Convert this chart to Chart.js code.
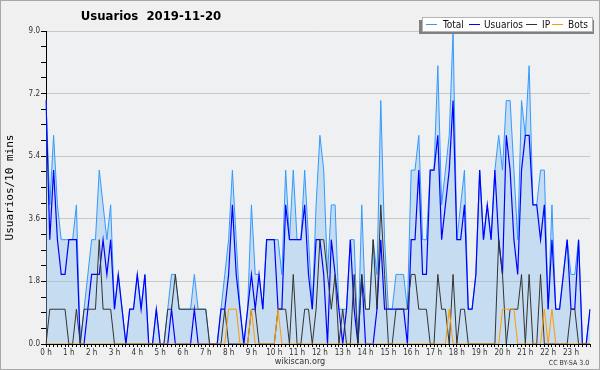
<!DOCTYPE html>
<html>
<head>
<meta charset="utf-8">
<script src="https://cdn.jsdelivr.net/npm/chart.js@4.4.1/dist/chart.umd.min.js"></script>
<style>
  body { margin: 0; background: #f0f0f0; }
</style>
</head>
<body>
<canvas id="GraficoUsuarios" width="600" height="370"></canvas>
<script>
// etiquetas del eje X (una por hora, 6 intervalos de 10 min por hora)
let horas = ['0 h', '1 h', '2 h', '3 h', '4 h', '5 h', '6 h', '7 h', '8 h', '9 h', '10 h', '11 h',
             '12 h', '13 h', '14 h', '15 h', '16 h', '17 h', '18 h', '19 h', '20 h', '21 h', '22 h', '23 h'];
let ticksY = [0, 1.8, 3.6, 5.4, 7.2, 9.0];

// valores cada 10 minutos
let total = [
    7, 4, 6, 4, 3, 3, 3, 3, 4, 0,   1, 2, 3, 3, 5, 4, 3, 4, 1, 2,
    1, 0, 1, 1, 2, 1, 2, 0, 0, 1,   0, 0, 1, 2, 2, 1, 1, 1, 1, 2,
    1, 1, 1, 0, 0, 0, 1, 2, 3, 5,   3, 1, 0, 1, 4, 2, 2, 1, 3, 3,
    3, 3, 2, 5, 3, 5, 3, 3, 5, 3,   1, 4, 6, 5, 2, 4, 4, 1, 1, 1,
    3, 3, 0, 4, 1, 1, 3, 2, 7, 3,   1, 1, 2, 2, 2, 1, 5, 5, 6, 3,
    3, 5, 5, 8, 4, 5, 6, 9, 3, 4,   5, 1, 1, 2, 5, 3, 4, 3, 5, 6,
    5, 7, 7, 5, 3, 7, 6, 8, 4, 4,   5, 5, 1, 4, 1, 1, 2, 3, 2, 2,
    3, 0, 0, 1
];
let usuarios = [
    7, 3, 5, 3, 2, 2, 3, 3, 3, 0,   0, 1, 2, 2, 2, 3, 2, 3, 1, 2,
    1, 0, 1, 1, 2, 1, 2, 0, 0, 1,   0, 0, 0, 1, 0, 0, 0, 0, 0, 1,
    0, 0, 0, 0, 0, 0, 1, 1, 2, 4,   2, 1, 0, 1, 2, 1, 2, 1, 3, 3,
    3, 1, 1, 4, 3, 3, 3, 3, 4, 2,   1, 3, 3, 2, 0, 3, 2, 1, 0, 1,
    3, 1, 0, 2, 0, 0, 0, 1, 3, 1,   1, 1, 1, 1, 1, 0, 3, 3, 5, 2,
    2, 5, 5, 6, 3, 4, 5, 7, 3, 3,   4, 1, 1, 2, 5, 3, 4, 3, 5, 3,
    2, 6, 5, 3, 2, 5, 6, 6, 4, 4,   3, 4, 1, 3, 1, 1, 2, 3, 1, 1,
    3, 0, 0, 1
];
let ip = [
    0, 1, 1, 1, 1, 1, 0, 0, 1, 0,   1, 1, 1, 1, 3, 1, 1, 1, 0, 0,
    0, 0, 0, 0, 0, 0, 0, 0, 0, 0,   0, 0, 1, 1, 2, 1, 1, 1, 1, 1,
    1, 1, 1, 0, 0, 0, 0, 1, 0, 0,   0, 0, 0, 0, 1, 1, 0, 0, 0, 0,
    0, 1, 1, 1, 0, 2, 0, 0, 1, 1,   0, 1, 3, 3, 2, 1, 2, 0, 1, 0,
    0, 2, 0, 2, 1, 1, 3, 1, 4, 2,   0, 0, 1, 1, 1, 1, 2, 2, 1, 1,
    1, 0, 0, 2, 1, 1, 0, 2, 0, 1,   1, 0, 0, 0, 0, 0, 0, 0, 0, 3,
    2, 0, 1, 1, 1, 2, 0, 2, 0, 0,   2, 0, 0, 0, 0, 0, 0, 0, 1, 1,
    0, 0, 0, 0
];
let bots = [
    0, 0, 0, 0, 0, 0, 0, 0, 0, 0,   0, 0, 0, 0, 0, 0, 0, 0, 0, 0,
    0, 0, 0, 0, 0, 0, 0, 0, 0, 0,   0, 0, 0, 0, 0, 0, 0, 0, 0, 0,
    0, 0, 0, 0, 0, 0, 0, 0, 1, 1,   1, 0, 0, 0, 1, 0, 0, 0, 0, 0,
    0, 1, 0, 0, 0, 0, 0, 0, 0, 0,   0, 0, 0, 0, 0, 0, 0, 0, 0, 0,
    0, 0, 0, 0, 0, 0, 0, 0, 0, 0,   0, 0, 0, 0, 0, 0, 0, 0, 0, 0,
    0, 0, 0, 0, 0, 0, 1, 0, 0, 0,   0, 0, 0, 0, 0, 0, 0, 0, 0, 0,
    1, 1, 1, 1, 0, 0, 0, 0, 0, 0,   0, 1, 0, 1, 0, 0, 0, 0, 0, 0,
    0, 0, 0, 0
];

let colorTotal = '#3399ff';
let colorUsuarios = '#0000ff';
let colorIP = '#333333';
let colorBots = '#ff9900';
let fuente = '"DejaVu Sans Condensed", "Liberation Sans Narrow", "Liberation Sans", sans-serif';

// categorias: 0:00, 0:10, ... 23:50
let categorias = [];
horas.forEach(function (h, indice) {
    for (let m = 0; m < 6; m++) {
        categorias.push(indice + ':' + m + '0');
    }
});

function EsMayor(valor) {
    return ticksY.some(function (t) { return Math.abs(t - valor) < 1e-6; });
}

// fondo, titulo, leyenda y pie
const decorado = {
    id: 'decorado',
    beforeDraw: function (chart) {
        const ctx = chart.ctx;
        const area = chart.chartArea;
        ctx.save();
        ctx.fillStyle = '#f0f0f0';
        ctx.fillRect(0, 0, chart.width, chart.height);
        ctx.strokeStyle = '#a8a8a8';
        ctx.lineWidth = 1;
        ctx.strokeRect(0.5, 0.5, chart.width - 1, chart.height - 1);
        ctx.fillStyle = '#eef0f2';
        ctx.fillRect(area.left, area.top, area.right - area.left, area.bottom - area.top);
        ctx.restore();
    },
    afterDraw: function (chart) {
        const ctx = chart.ctx;
        ctx.save();
        // titulo
        ctx.fillStyle = '#000';
        ctx.font = 'bold 13px ' + fuente;
        ctx.textAlign = 'center';
        ctx.textBaseline = 'middle';
        ctx.fillText('Usuarios  2019-11-20', 151, 17);

        // leyenda
        ctx.fillStyle = '#808080';
        ctx.fillRect(419, 20, 175, 14);
        ctx.fillStyle = '#ffffff';
        ctx.fillRect(422, 17, 170, 14);
        ctx.strokeStyle = '#b4b4b4';
        ctx.strokeRect(422.5, 17.5, 170, 14);
        let items = [
            ['Total', colorTotal, 426, 443],
            ['Usuarios', colorUsuarios, 469, 484],
            ['IP', colorIP, 526, 542],
            ['Bots', colorBots, 552, 568]
        ];
        ctx.font = '10px ' + fuente;
        ctx.textAlign = 'left';
        items.forEach(function (it) {
            ctx.strokeStyle = it[1];
            ctx.beginPath();
            ctx.moveTo(it[2], 24.5);
            ctx.lineTo(it[2] + 11, 24.5);
            ctx.stroke();
            ctx.fillStyle = '#111';
            ctx.fillText(it[0], it[3], 25);
        });

        // pie
        ctx.fillStyle = '#333';
        ctx.textAlign = 'center';
        ctx.font = '9px ' + fuente;
        ctx.fillText('wikiscan.org', 300, 362);
        ctx.font = '7px ' + fuente;
        ctx.fillText('CC BY-SA 3.0', 569, 363);
        ctx.restore();
    }
};

const ctx = document.getElementById('GraficoUsuarios');
const graficoUsuarios = new Chart(ctx, {
    type: 'line',
    data: {
        labels: categorias,
        datasets: [{
            label: 'Total',
            data: total,
            borderColor: colorTotal,
            backgroundColor: 'rgba(138, 190, 237, 0.4)',
            borderWidth: 1,
            fill: 'origin',
            order: 4
        }, {
            label: 'Usuarios',
            data: usuarios,
            borderColor: colorUsuarios,
            borderWidth: 1.2,
            fill: false,
            order: 3
        }, {
            label: 'IP',
            data: ip,
            borderColor: colorIP,
            borderWidth: 1,
            fill: false,
            order: 2
        }, {
            label: 'Bots',
            data: bots,
            borderColor: colorBots,
            borderWidth: 1,
            fill: false,
            order: 1
        }]
    },
    options: {
        responsive: false,
        animation: false,
        elements: {
            point: { radius: 0 },
            line: { tension: 0 }
        },
        layout: {
            padding: { left: 0, right: 10, top: 31, bottom: 10 }
        },
        plugins: {
            legend: { display: false },
            tooltip: { enabled: false }
        },
        scales: {
            x: {
                offset: false,
                afterFit: function (scale) { scale.height = 16; },
                border: { color: '#000', width: 1 },
                grid: {
                    drawOnChartArea: false,
                    tickLength: 3,
                    tickColor: '#000'
                },
                ticks: {
                    autoSkip: false,
                    maxRotation: 0,
                    padding: 1,
                    color: '#333',
                    font: { family: fuente, size: 8 },
                    callback: function (valor, indice) {
                        return indice % 6 === 0 ? horas[indice / 6] : '';
                    }
                }
            },
            y: {
                min: 0,
                max: 9,
                afterFit: function (scale) { scale.width = 46; },
                border: { color: '#000', width: 1 },
                grid: {
                    color: function (c) {
                        return EsMayor(c.tick.value) ? '#c8c8c8' : 'rgba(0,0,0,0)';
                    },
                    tickColor: '#000',
                    tickLength: 5
                },
                ticks: {
                    stepSize: 0.45,
                    padding: 1,
                    color: '#333',
                    font: { family: fuente, size: 8 },
                    callback: function (valor) {
                        return EsMayor(valor) ? valor.toFixed(1) : '';
                    }
                },
                title: {
                    display: true,
                    text: 'Usuarios/10 mins',
                    color: '#000',
                    padding: { top: 4, bottom: 0 },
                    font: { family: '"DejaVu Sans Mono", monospace', size: 11 }
                }
            }
        }
    },
    plugins: [decorado]
});
</script>
</body>
</html>
